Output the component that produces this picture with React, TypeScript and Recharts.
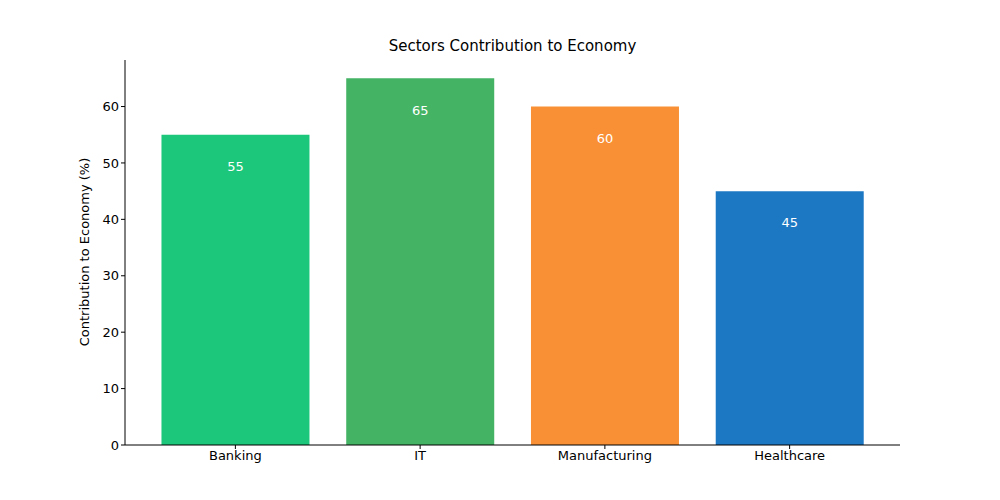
import { Bar, BarChart, Cell, LabelList, XAxis, YAxis } from 'recharts'

const sectors = ['Banking', 'IT', 'Manufacturing', 'Healthcare']
const contributions = [55, 65, 60, 45]
const barColors = ['#1cc67a', '#45b364', '#f99035', '#1d78c4']
const yTicks = [0, 10, 20, 30, 40, 50, 60]

const data = sectors.map((name, i) => ({ name, value: contributions[i] }))

const font = 'DejaVu Sans, sans-serif'

export default function App() {
  return (
    <div style={{ position: 'absolute', left: 0, top: 0, width: 1000, height: 500, background: '#fff', fontFamily: font }}>
      <div style={{ position: 'absolute', top: 37, width: 1025, textAlign: 'center', fontSize: 15, color: '#000' }}>
        Sectors Contribution to Economy
      </div>
      <div
        style={{
          position: 'absolute', left: 84, top: 252, fontSize: 13, color: '#000', whiteSpace: 'nowrap',
          transform: 'translate(-50%, -50%) rotate(-90deg)',
        }}
      >
        Contribution to Economy (%)
      </div>
      <BarChart
        width={1000}
        height={500}
        data={data}
        margin={{ top: 60, right: 100, bottom: 25, left: 75 }}
        barCategoryGap="10%"
      >
        <XAxis
          dataKey="name"
          padding={{ left: 18, right: 18 }}
          stroke="#000"
          tickSize={4}
          height={30}
          tick={{ fill: '#000', fontSize: 13, fontFamily: font }}
        />
        <XAxis xAxisId="top" orientation="top" dataKey="name" stroke="#000" tick={false} tickLine={false} height={0} />
        <YAxis
          domain={[0, 68.25]}
          ticks={yTicks}
          stroke="#000"
          tickSize={4}
          width={50}
          tick={{ fill: '#000', fontSize: 13, fontFamily: font }}
        />
        <YAxis yAxisId="right" orientation="right" stroke="#000" tick={false} tickLine={false} width={0} />
        <Bar dataKey="value" isAnimationActive={false}>
          {data.map((d, i) => (
            <Cell key={d.name} fill={barColors[i]} />
          ))}
          <LabelList dataKey="value" position="insideTop" offset={27} fill="#fff" fontSize={13} fontFamily={font} />
        </Bar>
      </BarChart>
    </div>
  )
}
